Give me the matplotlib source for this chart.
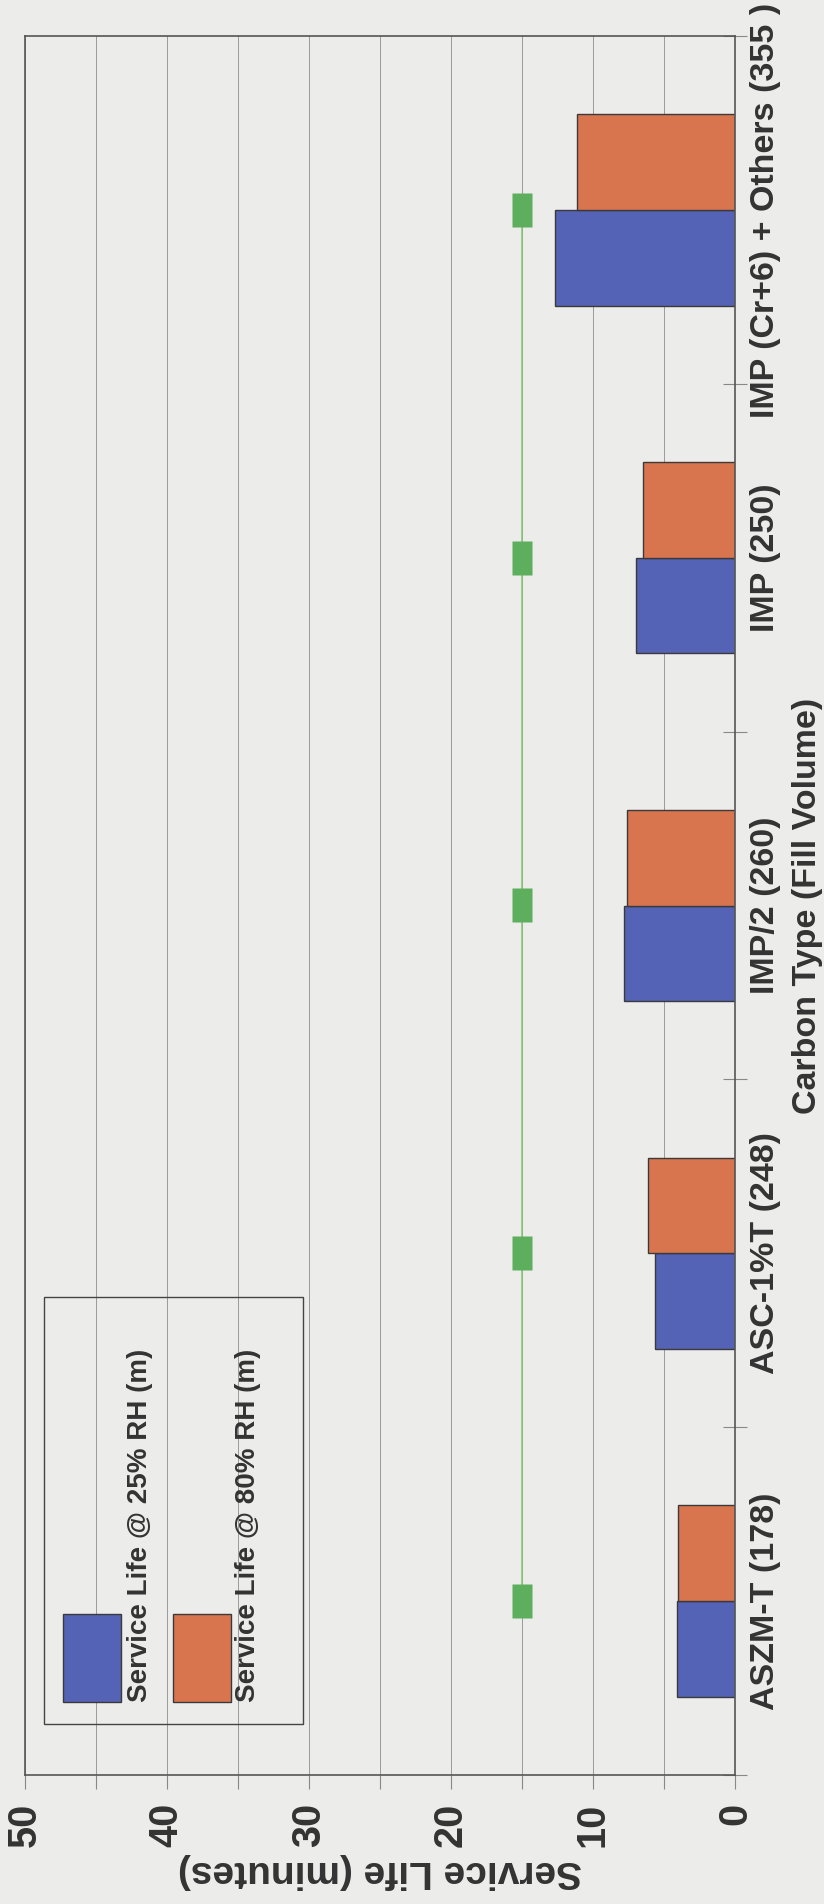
import matplotlib
matplotlib.use("Agg")
import matplotlib.pyplot as plt
from matplotlib.patches import Rectangle
from matplotlib.path import Path
import numpy as np

plt.rcParams['font.family'] = ['Liberation Sans', 'DejaVu Sans']
plt.rcParams['font.weight'] = 'bold'
plt.rcParams['axes.labelweight'] = 'bold'

# ---- data -------------------------------------------------------------
categories = ['ASZM-T (178)', 'ASC-1%T (248)', 'IMP/2 (260)', 'IMP (250)',
              'IMP (Cr+6) + Others (355 )']
life_25rh = [4.1, 5.6, 7.8, 7.0, 12.7]
life_80rh = [4.0, 6.1, 7.6, 6.5, 11.1]
reference_line = [15, 15, 15, 15, 15]
series_names = ['Service Life @ 25% RH (m)', 'Service Life @ 80% RH (m)']
value_ticks = [0, 10, 20, 30, 40, 50]
value_minor_ticks = [5, 15, 25, 35, 45]

# ---- style ------------------------------------------------------------
paper = '#ECECEA'
ink = '#333333'
blue = '#5563B6'
orange = '#D8744E'
green_line = '#82C874'
green_mark = '#5DAE5D'
edge = '#3a3a3a'
grid_c = '#9a9a9a'

W, H = 824, 1904
fig = plt.figure(figsize=(W / 100, H / 100), dpi=100, facecolor=paper)
ax_l, ax_r, ax_t, ax_b = 24.7, 735.0, 36.0, 1775.0
ax = fig.add_axes([ax_l / W, 1 - ax_b / H, (ax_r - ax_l) / W, (ax_b - ax_t) / H])
ax.set_facecolor(paper)

pos = np.arange(len(categories))
h = 0.275

# the page is turned: values run right-to-left, categories bottom-to-top
ax.barh(pos - h / 2, life_25rh, height=h, color=blue, edgecolor=edge,
        linewidth=1.0, zorder=2)
ax.barh(pos + h / 2, life_80rh, height=h, color=orange, edgecolor=edge,
        linewidth=1.0, zorder=2)

bar_marker = Path([(-0.288, -0.5), (0.288, -0.5), (0.288, 0.5),
                   (-0.288, 0.5), (-0.288, -0.5)],
                  [Path.MOVETO, Path.LINETO, Path.LINETO, Path.LINETO,
                   Path.CLOSEPOLY])
ax.plot(reference_line, pos, color=green_line, lw=1.1, marker=bar_marker,
        markersize=23.8, markerfacecolor=green_mark, markeredgecolor='none',
        zorder=3)

# value axis (bottom)
ax.set_xlim(50, 0)
ax.set_xticks(value_ticks)
ax.set_xticks(value_minor_ticks, minor=True)
ax.set_xticklabels([str(v) for v in value_ticks])
ax.tick_params(axis='x', which='both', direction='out', length=10,
               color='#888888', width=0.8)
ax.tick_params(axis='x', which='major', labelsize=28.5, labelrotation=90,
               pad=10, labelcolor=ink)
ax.grid(axis='x', which='both', color=grid_c, linewidth=0.7)
ax.set_axisbelow(True)
ax.set_xlabel('Service Life (minutes)', fontsize=28, fontweight='bold',
              rotation=180, labelpad=4, color=ink)

# category axis (right)
ax.set_ylim(-0.5, len(categories) - 0.5)
ax.yaxis.tick_right()
ax.yaxis.set_label_position('right')
ax.set_yticks(pos)
ax.set_yticklabels(categories, rotation=90, va='center')
ax.set_yticks(np.arange(-0.5, len(categories), 1.0), minor=True)
ax.tick_params(axis='y', which='major', length=0, pad=11, labelsize=24.5,
               labelcolor=ink)
ax.tick_params(axis='y', which='minor', direction='inout', length=17,
               color='#888888', width=0.8, right=True, left=False)
ax.set_ylabel('Carbon Type (Fill Volume)', fontsize=24.5, fontweight='bold',
              labelpad=8, color=ink)

for s in ax.spines.values():
    s.set_color('#555555')
    s.set_linewidth(1.2)

# legend box, turned with the page
tr = ax.transAxes
ax.add_patch(Rectangle((0.0272, 0.0293), 0.3648, 0.2456, transform=tr,
                       fill=False, edgecolor='#444444', lw=1.0, zorder=4))
patch_x = [0.0535, 0.2084]
text_x = [0.1623, 0.3144]
for name, col, px, tx in zip(series_names, [blue, orange], patch_x, text_x):
    ax.add_patch(Rectangle((px, 0.042), 0.0821, 0.0506, transform=tr,
                           facecolor=col, edgecolor=edge, lw=1.0, zorder=4))
    ax.text(tx, 0.042, name, transform=tr, rotation=90, ha='center',
            va='bottom', fontsize=20, color=ink, zorder=5)

fig.savefig('out.png', dpi=100, facecolor=paper)
